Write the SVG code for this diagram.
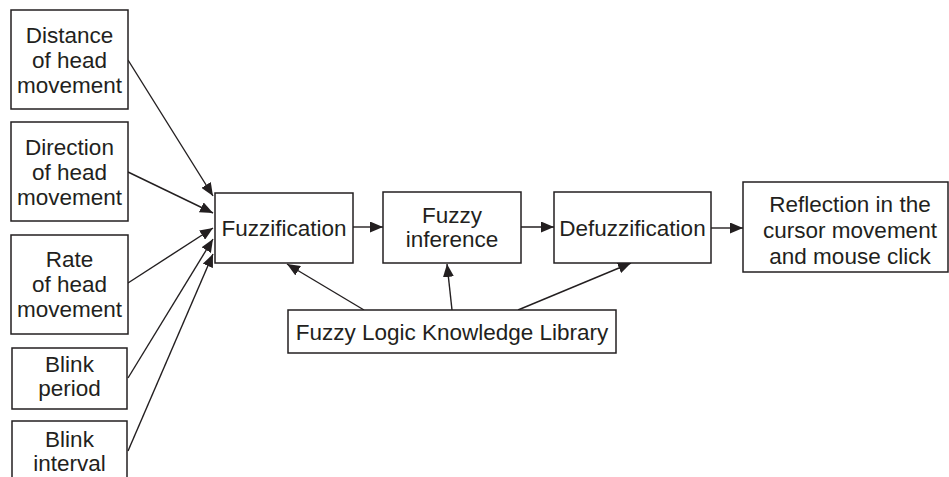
<svg xmlns="http://www.w3.org/2000/svg" width="949" height="477" viewBox="0 0 949 477">
<style>
.box{fill:#fff;stroke:#231f20;stroke-width:1.5}
.t{font-family:"Liberation Sans",Arial,sans-serif;font-size:22.5px;fill:#231f20;text-anchor:middle}
.c{stroke:#231f20;stroke-width:1.4;fill:none;marker-end:url(#ah)}
</style>
<defs>
<marker id="ah" viewBox="0 0 13 11" refX="13" refY="5.5" markerWidth="13" markerHeight="11" markerUnits="userSpaceOnUse" orient="auto">
<path d="M0,0 L13,5.5 L0,11 Z" fill="#231f20"/>
</marker>
</defs>
<rect width="949" height="477" fill="#fff"/>
<g id="connectors">
<line class="c" x1="128" y1="60" x2="213" y2="196"/>
<line class="c" x1="128" y1="172" x2="213" y2="213"/>
<line class="c" x1="128" y1="283" x2="213" y2="228"/>
<line class="c" x1="128" y1="378" x2="213" y2="239"/>
<line class="c" x1="128" y1="451" x2="213" y2="254"/>
<line class="c" x1="353" y1="227" x2="383" y2="227"/>
<line class="c" x1="521" y1="227" x2="554" y2="227"/>
<line class="c" x1="711" y1="228" x2="743" y2="228"/>
<line class="c" x1="364" y1="310" x2="287" y2="264"/>
<line class="c" x1="452" y1="310" x2="447" y2="264"/>
<line class="c" x1="518" y1="310" x2="631" y2="263"/>
</g>
<g id="n-distance">
<rect class="box" x="11" y="10" width="117" height="99"/>
<text class="t" x="69.5" y="43">Distance</text>
<text class="t" x="69.5" y="68">of head</text>
<text class="t" x="69.5" y="93">movement</text>
</g>
<g id="n-direction">
<rect class="box" x="11" y="122" width="117" height="99"/>
<text class="t" x="69.5" y="155">Direction</text>
<text class="t" x="69.5" y="180">of head</text>
<text class="t" x="69.5" y="205">movement</text>
</g>
<g id="n-rate">
<rect class="box" x="11" y="235" width="117" height="99"/>
<text class="t" x="69.5" y="267">Rate</text>
<text class="t" x="69.5" y="292">of head</text>
<text class="t" x="69.5" y="317">movement</text>
</g>
<g id="n-period">
<rect class="box" x="12" y="348" width="115" height="61"/>
<text class="t" x="69.5" y="372">Blink</text>
<text class="t" x="69.5" y="396">period</text>
</g>
<g id="n-interval">
<rect class="box" x="12" y="421" width="115" height="70"/>
<text class="t" x="69.5" y="447">Blink</text>
<text class="t" x="69.5" y="471">interval</text>
</g>
<g id="n-fuzzification">
<rect class="box" x="215" y="193" width="138" height="70"/>
<text class="t" x="284" y="236">Fuzzification</text>
</g>
<g id="n-inference">
<rect class="box" x="383" y="192" width="138" height="71"/>
<text class="t" x="452" y="223">Fuzzy</text>
<text class="t" x="452" y="247">inference</text>
</g>
<g id="n-defuzzification">
<rect class="box" x="554" y="192" width="157" height="71"/>
<text class="t" x="632.5" y="236">Defuzzification</text>
</g>
<g id="n-reflection">
<rect class="box" x="743" y="182" width="205" height="90"/>
<text class="t" x="850" y="212">Reflection in the</text>
<text class="t" x="850" y="238">cursor movement</text>
<text class="t" x="850" y="264">and mouse click</text>
</g>
<g id="n-library">
<rect class="box" x="288" y="310" width="328" height="43"/>
<text class="t" x="452" y="340">Fuzzy Logic Knowledge Library</text>
</g>
</svg>
